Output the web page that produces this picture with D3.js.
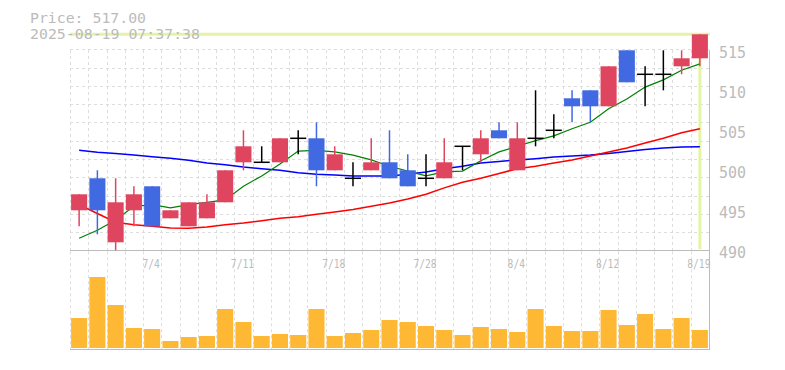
<!DOCTYPE html>
<html>
<head>
<meta charset="utf-8">
<script src="https://cdn.jsdelivr.net/npm/d3@7"></script>
<style>
	body { margin: 0; background: #fff; }
	svg { display: block; }
	text { font-family: "DejaVu Sans Mono", monospace; fill: #bbb; }
</style>
</head>
<body>
<div id="chart"></div>
<script>
/* --------------------- data ---------------------- */
let dates = ['6/30','7/1','7/2','7/3','7/4','7/7','7/8','7/9','7/10','7/11',
	'7/14','7/15','7/16','7/17','7/18','7/22','7/23','7/24','7/25','7/28',
	'7/29','7/30','7/31','8/1','8/4','8/5','8/6','8/7','8/8','8/12',
	'8/13','8/14','8/15','8/18','8/19'];
let tickDates = ['7/4','7/11','7/18','7/28','8/4','8/12','8/19'];

let opens  = [495,499,491,495,498,494,493,494,496,501, 501,501,504,504,500,499,500,501,500,499, 499,503,502,505,500,504,505,509,510,508, 515,512,512,513,514];
let highs  = [497,500,499,498,498,495,496,497,500,505, 503,504,505,506,503,501,504,505,502,502, 504,503,505,506,506,510,507,510,510,513, 515,513,515,515,517];
let lows   = [493,492,490,493,493,494,493,494,496,500, 501,501,502,498,500,498,500,499,498,498, 499,500,501,504,500,503,504,506,506,508, 511,508,510,512,513];
let closes = [497,495,496,497,493,495,496,496,500,503, 501,504,504,500,502,499,501,499,498,499, 501,503,504,504,504,504,505,508,508,513, 511,512,512,514,517];

// moving averages
let ma5  = [491.5,492.5,493.8,495.5,495.7,495.3,495.7,496.0,496.3,498.0, 499.3,500.8,502.4,502.5,502.3,501.9,501.3,500.5,499.9,499.3, 499.8,499.9,501.2,502.3,503.0,503.7,504.3,505.2,506.0,507.7, 508.9,510.4,511.3,512.5,513.3];
let ma25 = [495.7,494.6,493.5,493.2,493.0,492.8,492.75,492.9,493.2,493.4, 493.7,494.0,494.2,494.5,494.8,495.1,495.5,495.9,496.4,497.0, 497.8,498.5,499.0,499.6,500.2,500.5,500.9,501.3,501.8,502.3, 502.8,503.4,504.0,504.7,505.2];
let ma75 = [502.5,502.25,502.1,501.9,501.7,501.5,501.25,500.9,500.7,500.4, 500.2,500.0,499.7,499.5,499.4,499.3,499.3,499.3,499.5,499.8, 500.2,500.5,500.9,501.1,501.3,501.45,501.65,501.8,501.9,502.1, 502.35,502.6,502.8,502.9,502.95];

// volume, thousand shares
let volumes = [60,142,86,40,38,14,22,24,78,52, 24,28,26,78,24,30,36,56,52,44, 36,26,42,38,32,78,44,34,34,76, 46,68,38,60,36];

let priceTicks = [490,495,500,505,510,515];
let lastPrice = '517.00';
let stamp = '2025-08-19 07:37:38';

/* --------------------- drawing ---------------------- */
let W = 785, H = 370;
let left = 70, right = 709;
let priceBottom = 250.3, volBottom = 348, volTop = 277;

let svg = d3.select('#chart').append('svg')
	.attr('width', W)
	.attr('height', H);

let x = d3.scaleBand()
	.domain(d3.range(dates.length))
	.range([left, right])
	.paddingInner(0.12)
	.paddingOuter(0.06);
let step = x.step();
let cx = i => x(i) + x.bandwidth() / 2;

let y = d3.scaleLinear()
	.domain([d3.min(lows), d3.max(highs)])
	.range([priceBottom, 34.3]);

let yv = d3.scaleLinear()
	.domain([0, d3.max(volumes)])
	.range([volBottom, volTop]);

let gridColor = '#ddd';

// square dashed grid in the price panel
let grid = svg.append('g');
for (let k = 0; k < dates.length; k++) {
	let gx = Math.round(left + k * step) + 0.5;
	grid.append('line')
		.attr('x1', gx).attr('x2', gx)
		.attr('y1', 50).attr('y2', priceBottom)
		.attr('stroke', gridColor).attr('stroke-dasharray', '3,3');
	grid.append('line')
		.attr('x1', gx).attr('x2', gx)
		.attr('y1', priceBottom + 1).attr('y2', volBottom + 2)
		.attr('stroke', gridColor).attr('stroke-dasharray', '3,3');
}
for (let gy = priceBottom - step; gy > 48; gy -= step) {
	grid.append('line')
		.attr('x1', left).attr('x2', right)
		.attr('y1', Math.round(gy) + 0.5).attr('y2', Math.round(gy) + 0.5)
		.attr('stroke', gridColor).attr('stroke-dasharray', '3,3');
}

// panel frame
svg.append('line')
	.attr('x1', left).attr('x2', right + 1)
	.attr('y1', 250.5).attr('y2', 250.5)
	.attr('stroke', '#bbb');
svg.append('line')
	.attr('x1', left).attr('x2', right + 1)
	.attr('y1', 349.5).attr('y2', 349.5)
	.attr('stroke', '#bbb');
svg.append('line')
	.attr('x1', right + 0.5).attr('x2', right + 0.5)
	.attr('y1', 50).attr('y2', 350)
	.attr('stroke', '#bbb');

// last price crosshair
let last = dates.length - 1;
svg.append('line')
	.attr('x1', left).attr('x2', right + 1)
	.attr('y1', y(d3.max(highs))).attr('y2', y(d3.max(highs)))
	.attr('stroke', '#e4f4a6').attr('stroke-width', 3);
svg.append('line')
	.attr('x1', cx(last)).attr('x2', cx(last))
	.attr('y1', y(d3.max(highs))).attr('y2', priceBottom - 1)
	.attr('stroke', '#e4f4a6').attr('stroke-width', 3);

// moving averages
let maLine = d3.line()
	.x((d, i) => cx(i))
	.y(d => y(d));
[[ma75, '#0000ff', 1.5], [ma25, '#ff0000', 1.5], [ma5, '#008000', 1.2]].forEach(function(m) {
	svg.append('path')
		.attr('d', maLine(m[0]))
		.attr('fill', 'none')
		.attr('stroke', m[1])
		.attr('stroke-width', m[2]);
});

// candles
let upColor = '#e04560', downColor = '#4169e1';
let candles = svg.append('g').selectAll('g')
	.data(d3.range(dates.length))
	.enter().append('g');

candles.each(function(i) {
	let g = d3.select(this);
	let o = opens[i], c = closes[i];
	let col = c > o ? upColor : (c < o ? downColor : '#000');
	g.append('line')
		.attr('x1', cx(i)).attr('x2', cx(i))
		.attr('y1', y(highs[i])).attr('y2', y(lows[i]))
		.attr('stroke', col).attr('stroke-width', 1.5);
	if (c === o) {
		g.append('line')
			.attr('x1', x(i)).attr('x2', x(i) + x.bandwidth())
			.attr('y1', y(c)).attr('y2', y(c))
			.attr('stroke', '#000').attr('stroke-width', 1.5);
	} else {
		g.append('rect')
			.attr('x', x(i))
			.attr('width', x.bandwidth())
			.attr('y', y(Math.max(o, c)))
			.attr('height', Math.abs(y(o) - y(c)))
			.attr('fill', col);
	}
});

// volume bars
svg.append('g').selectAll('rect')
	.data(volumes)
	.enter().append('rect')
		.attr('x', (d, i) => x(i))
		.attr('width', x.bandwidth())
		.attr('y', d => yv(d))
		.attr('height', d => volBottom - yv(d))
		.attr('fill', '#ffb833');

// price axis labels (right)
svg.append('g').selectAll('text')
	.data(priceTicks)
	.enter().append('text')
		.attr('x', 719)
		.attr('y', d => y(d) + 8)
		.attr('font-size', 16)
		.attr('textLength', d => String(d).length * 9)
		.attr('lengthAdjust', 'spacingAndGlyphs')
		.text(d => d);

// date labels
svg.append('g').selectAll('text')
	.data(tickDates)
	.enter().append('text')
		.attr('x', d => cx(dates.indexOf(d)) - 1)
		.attr('y', 267.5)
		.attr('text-anchor', 'middle')
		.attr('font-size', 12.5)
		.attr('textLength', d => d.length * 5.8)
		.attr('lengthAdjust', 'spacingAndGlyphs')
		.text(d => d);

// header
svg.append('text')
	.attr('x', 30).attr('y', 23)
	.attr('font-size', 14.5)
	.attr('textLength', 116)
	.attr('lengthAdjust', 'spacingAndGlyphs')
	.text('Price: ' + lastPrice);
svg.append('text')
	.attr('x', 30).attr('y', 38.5)
	.attr('font-size', 14.5)
	.attr('textLength', 170)
	.attr('lengthAdjust', 'spacingAndGlyphs')
	.text(stamp);
</script>
</body>
</html>
